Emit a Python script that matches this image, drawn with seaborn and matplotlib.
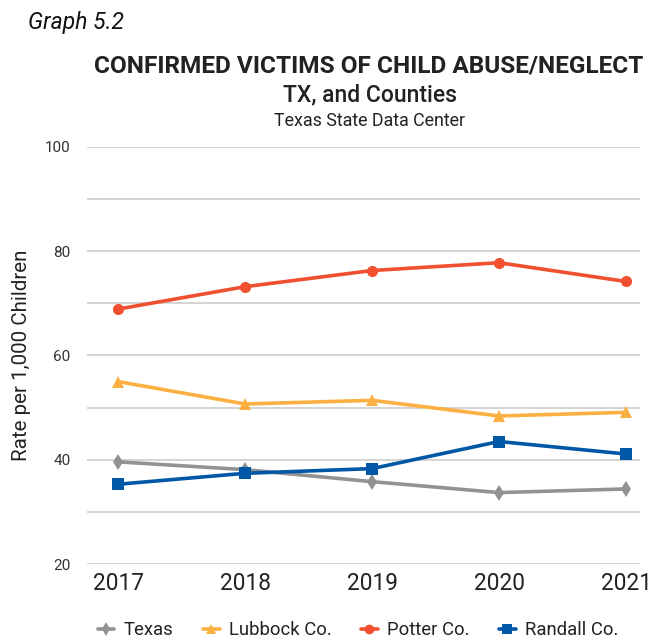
import matplotlib
matplotlib.use("Agg")
import matplotlib.pyplot as plt
import seaborn as sns
import pandas as pd

years = [2017, 2018, 2019, 2020, 2021]
texas = [39.6, 38.1, 35.8, 33.7, 34.4]
lubbock = [55.0, 50.7, 51.4, 48.4, 49.1]
potter = [68.9, 73.2, 76.3, 77.8, 74.2]
randall = [35.3, 37.4, 38.3, 43.5, 41.1]
series_names = ["Texas", "Lubbock Co.", "Potter Co.", "Randall Co."]
y_ticks = [20, 40, 60, 80, 100]

palette = {"Texas": "#929292", "Lubbock Co.": "#fbb041",
           "Potter Co.": "#f0502f", "Randall Co.": "#0057a6"}
markers = {"Texas": "d", "Lubbock Co.": "^", "Potter Co.": "o", "Randall Co.": "s"}

rows = []
for name, vals in zip(series_names, [texas, lubbock, potter, randall]):
    for yr, v in zip(years, vals):
        rows.append({"Year": yr, "Rate": v, "Area": name})
df = pd.DataFrame(rows)

sns.set_theme(style="white")
plt.rcParams["font.family"] = ["Roboto", "DejaVu Sans"]

fig = plt.figure(figsize=(6.5, 6.4), dpi=100)
ax = fig.add_axes([87 / 650, 1 - 564 / 640, (640 - 87) / 650, (564 - 147) / 640])

sns.lineplot(data=df, x="Year", y="Rate", hue="Area", style="Area",
             palette=palette, markers=markers, dashes=False,
             hue_order=series_names, style_order=series_names,
             linewidth=2.6, markersize=8, markeredgewidth=0, ax=ax,
             legend=False)

ax.set_ylim(20, 100)
ax.set_xlim(2017 - 31 / 127, 2021 + 14 / 127)
ax.set_yticks(range(20, 101, 10))
ax.set_yticklabels([str(t) if t in y_ticks else "" for t in range(20, 101, 10)],
                   fontsize=11, color="#333333")
ax.set_xticks(years)
ax.set_xticklabels([str(y) for y in years], fontsize=16.3, color="#222222")
ax.tick_params(axis="y", length=0, pad=12)
ax.tick_params(axis="x", length=0, pad=6)
ax.grid(axis="y", color="#d4d4d4", linewidth=1.4)
ax.set_axisbelow(True)
for s in ax.spines.values():
    s.set_visible(False)
ax.set_xlabel("")
ax.set_ylabel("Rate per 1,000 Children", fontsize=14.8, color="#222222", labelpad=10)

fig.text(28 / 650, 1 - 22 / 640, "Graph 5.2", fontsize=16.5, style="italic",
         color="#111111", va="center", ha="left")
fig.text(369 / 650, 1 - 66 / 640, "CONFIRMED VICTIMS OF CHILD ABUSE/NEGLECT",
         fontsize=17.6, fontweight="bold", color="#222222", ha="center", va="center")
fig.text(370 / 650, 1 - 95 / 640, "TX, and Counties", fontsize=16.5,
         fontweight="medium", color="#222222", ha="center", va="center")
fig.text(370 / 650, 1 - 121 / 640, "Texas State Data Center", fontsize=12.9,
         color="#222222", ha="center", va="center")

handles = [plt.Line2D([], [], color=palette[n], marker=markers[n], linewidth=2.6,
                      markersize=7, markeredgewidth=0) for n in series_names]
fig.legend(handles, series_names, loc="center", bbox_to_anchor=(358 / 650, 1 - 630 / 640),
           ncol=4, frameon=False, fontsize=13.3, handlelength=0.9, handletextpad=0.5,
           columnspacing=1.6, labelcolor="#222222", borderpad=0.2)

fig.savefig("out.png", dpi=100)
